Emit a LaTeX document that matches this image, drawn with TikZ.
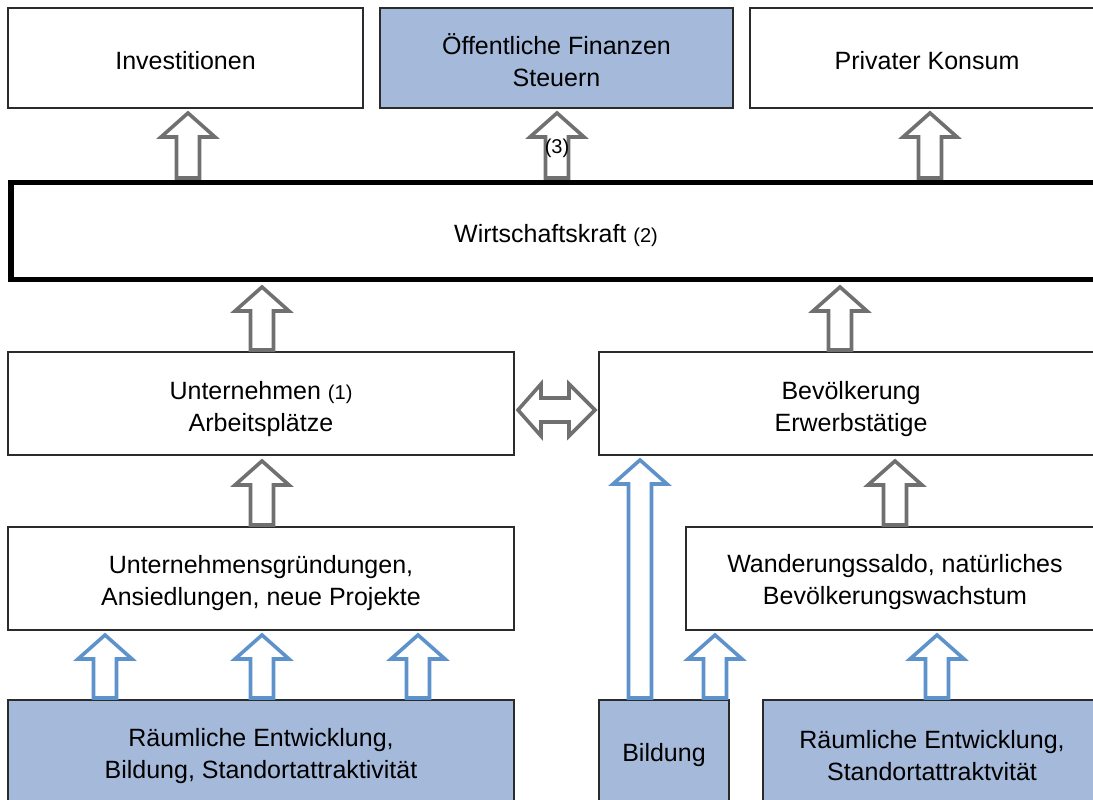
\documentclass[tikz,border=0pt]{standalone}
\usepackage{fontspec}
\setmainfont{Liberation Sans}
\definecolor{boxblue}{HTML}{A5B9DB}
\definecolor{arrblue}{HTML}{5E92CB}
\definecolor{arrgray}{HTML}{707070}
\definecolor{boxline}{HTML}{2B2B2B}
\tikzset{
  box/.style={draw=boxline, line width=1.6bp, inner sep=0pt},
  bluebox/.style={box, fill=boxblue},
  thickbox/.style={box, draw=black, line width=5.5bp},
  txt/.style={inner sep=0pt, align=center, font=\fontsize{25bp}{32bp}\selectfont},
  grayarr/.style={draw=arrgray, fill=white, line width=3.6bp, line join=miter},
  bluearr/.style={draw=arrblue, fill=white, line width=3.6bp, line join=miter},
  small/.style={font=\fontsize{20bp}{24bp}\selectfont}
}
\newcommand\sm[1]{{\fontsize{20bp}{24bp}\selectfont#1}}
\newcommand\blockup[4]{%
  \draw[#1] ({#2-11.5},{#4-2}) -- ({#2-11.5},{#3+27}) -- ({#2-27},{#3+27})
    -- ({#2},{#3+3}) -- ({#2+27},{#3+27}) -- ({#2+11.5},{#3+27})
    -- ({#2+11.5},{#4-2}) -- cycle;}
\begin{document}
\begin{tikzpicture}[x=1bp,y=-1bp]
\useasboundingbox (0,0) rectangle (1093,800);
\clip (0,0) rectangle (1093,800);
% top row
\node[box, minimum width=355bp, minimum height=100bp] (inv) at (185.5,58) {};
\node[bluebox, minimum width=353bp, minimum height=100bp] (oef) at (556.5,58) {};
\node[box, minimum width=354bp, minimum height=100bp] (kon) at (927,58) {};
\node[txt] (invt) at ([yshift=-3bp]inv.center) {Investitionen};
\node[txt] (oeft) at ([yshift=-2bp]oef.center) {Öffentliche Finanzen\\Steuern};
\node[txt] (kont) at ([yshift=-3bp]kon.center) {Privater Konsum};
% Wirtschaftskraft
\node[thickbox, minimum width=1090bp, minimum height=97bp] (wk) at (556,231) {};
\node[txt] (wkt) at ([yshift=-5bp]wk.center) {Wirtschaftskraft \sm{(2)}};
% middle row
\node[box, minimum width=506bp, minimum height=103bp] (unt) at (261,403.5) {};
\node[box, minimum width=504bp, minimum height=103bp] (bev) at (851,403.5) {};
\node[txt] (untt) at ([yshift=-6bp]unt.center) {Unternehmen \sm{(1)}\\Arbeitsplätze};
\node[txt] (bevt) at ([yshift=-6bp]bev.center) {Bevölkerung\\Erwerbstätige};
% lower row
\node[box, minimum width=506bp, minimum height=103bp] (gru) at (261,578.5) {};
\node[box, minimum width=418bp, minimum height=103bp] (wan) at (895,578.5) {};
\node[txt] (grut) at ([yshift=-5bp]gru.center) {Unternehmensgründungen,\\Ansiedlungen, neue Projekte};
\node[txt] (want) at ([yshift=-4bp]wan.center) {Wanderungssaldo, natürliches\\Bevölkerungswachstum};
% bottom row
\node[bluebox, minimum width=506bp, minimum height=106bp] (rae) at (261,753) {};
\node[bluebox, minimum width=130bp, minimum height=106bp] (bil) at (664,753) {};
\node[bluebox, minimum width=338bp, minimum height=106bp] (rae2) at (932,753) {};
\node[txt] (raet) at ([yshift=-3bp]rae.center) {Räumliche Entwicklung,\\Bildung, Standortattraktivität};
\node[txt] (bilt) at ([yshift=-2bp]bil.center) {Bildung};
\node[txt] (rae2t) at ([yshift=-3bp]rae2.center) {Räumliche Entwicklung,\\Standortattraktvität};
% gray arrows
\blockup{grayarr}{188}{110}{180}
\blockup{grayarr}{557}{110}{180}
\blockup{grayarr}{930}{110}{180}
\blockup{grayarr}{262}{284}{352}
\blockup{grayarr}{840}{284}{352}
\blockup{grayarr}{262}{458}{527}
\blockup{grayarr}{895}{458}{527}
\node[small] (n3) at (557,148) {(3)};
% double arrow
\draw[grayarr] (518,410) -- (541,384) -- (541,398) -- (569,398) -- (569,384)
  -- (595,410) -- (569,436) -- (569,422) -- (541,422) -- (541,436) -- cycle;
% blue arrows
\blockup{bluearr}{105}{632}{700}
\blockup{bluearr}{262}{632}{700}
\blockup{bluearr}{418}{632}{700}
\blockup{bluearr}{640}{457}{700}
\blockup{bluearr}{715}{632}{700}
\blockup{bluearr}{937}{632}{700}
\end{tikzpicture}
\end{document}
